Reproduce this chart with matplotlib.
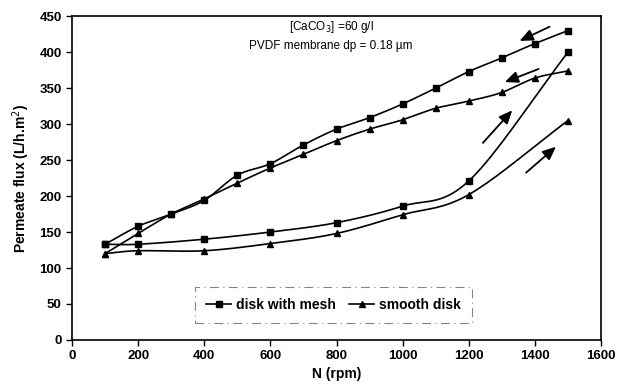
import numpy as np
import matplotlib
matplotlib.use("Agg")
import matplotlib.pyplot as plt

plt.rcParams['font.family'] = ['Liberation Sans', 'DejaVu Sans']

# Data
mesh_up_x = [100, 200, 400, 600, 800, 1000, 1200, 1500]
mesh_up_y = [133, 133, 140, 150, 163, 186, 221, 400]
mesh_down_x = [1500, 1400, 1300, 1200, 1100, 1000, 900, 800, 700, 600, 500, 400, 300, 200, 100]
mesh_down_y = [430, 412, 392, 373, 350, 328, 309, 293, 271, 245, 229, 194, 175, 158, 133]
smooth_up_x = [100, 200, 400, 600, 800, 1000, 1200, 1500]
smooth_up_y = [120, 124, 124, 134, 148, 174, 202, 305]
smooth_down_x = [1500, 1400, 1300, 1200, 1100, 1000, 900, 800, 700, 600, 500, 400, 300, 200, 100]
smooth_down_y = [374, 364, 344, 332, 322, 306, 293, 277, 258, 239, 218, 196, 175, 148, 120]

arrows = [((1452, 437), (1346, 414)),
          ((1419, 378), (1301, 357)),
          ((1237, 271), (1337, 322)),
          ((1367, 230), (1470, 271))]


def catmull(xs, ys, n=20):
    p = np.column_stack([xs, ys]).astype(float)
    p = np.vstack([2 * p[0] - p[1], p, 2 * p[-1] - p[-2]])
    out = []
    for i in range(1, len(p) - 2):
        p0, p1, p2, p3 = p[i - 1], p[i], p[i + 1], p[i + 2]
        t = np.linspace(0, 1, n, endpoint=False)[:, None]
        seg = 0.5 * ((2 * p1) + (-p0 + p2) * t + (2 * p0 - 5 * p1 + 4 * p2 - p3) * t ** 2
                     + (-p0 + 3 * p1 - 3 * p2 + p3) * t ** 3)
        out.append(seg)
    out.append(p[-2][None, :])
    s = np.vstack(out)
    return s[:, 0], s[:, 1]


fig = plt.figure(figsize=(6.19, 3.85), dpi=100)
ax = fig.add_axes([0.1163, 0.117, 0.971 - 0.1163, 0.958 - 0.117])

for xs, ys, m, ms in [(mesh_up_x, mesh_up_y, 's', 5), (mesh_down_x, mesh_down_y, 's', 5),
                      (smooth_up_x, smooth_up_y, '^', 5), (smooth_down_x, smooth_down_y, '^', 5)]:
    sx, sy = catmull(xs, ys)
    ax.plot(sx, sy, color='black', lw=1.2)
    ax.plot(xs, ys, linestyle='none', marker=m, color='black', markersize=ms)

ax.plot([], [], color='black', lw=1.2, marker='s', markersize=5, label='disk with mesh')
ax.plot([], [], color='black', lw=1.2, marker='^', markersize=5, label='smooth disk')

for (x0, y0), (x1, y1) in arrows:
    ax.annotate('', xy=(x1, y1), xytext=(x0, y0),
                arrowprops=dict(arrowstyle='-|>,head_length=0.8,head_width=0.35', color='black', lw=1.3))

ax.text(0.49, 0.966, '[CaCO$_3$] =60 g/l', transform=ax.transAxes, ha='center', va='center', fontsize=8.5)
ax.text(0.49, 0.907, 'PVDF membrane dp = 0.18 µm', transform=ax.transAxes, ha='center', va='center', fontsize=8.5)

ax.set_xlim(0, 1600)
ax.set_ylim(0, 450)
ax.set_xticks(range(0, 1601, 200))
ax.set_yticks(range(0, 451, 50))
for lab in ax.get_xticklabels() + ax.get_yticklabels():
    lab.set_fontweight('bold')
    lab.set_fontsize(9.5)
ax.tick_params(direction='out', length=4, width=1)
for s in ax.spines.values():
    s.set_linewidth(1.2)
ax.set_xlabel('N (rpm)', fontweight='bold', fontsize=10, labelpad=3)
ax.set_ylabel('Permeate flux (L/h.m$^{2}$)', fontweight='bold', fontsize=10, labelpad=5)

leg = ax.legend(loc='lower left', bbox_to_anchor=(0.22, 0.03), ncol=2, frameon=True,
                prop={'weight': 'bold', 'size': 10}, fancybox=False, handlelength=1.8,
                columnspacing=1.0, borderpad=0.8, handletextpad=0.3)
leg.get_frame().set_edgecolor('#666666')
leg.get_frame().set_linestyle((0, (8, 4, 1, 4)))
leg.get_frame().set_linewidth(0.8)

fig.savefig('out.png', dpi=100)
